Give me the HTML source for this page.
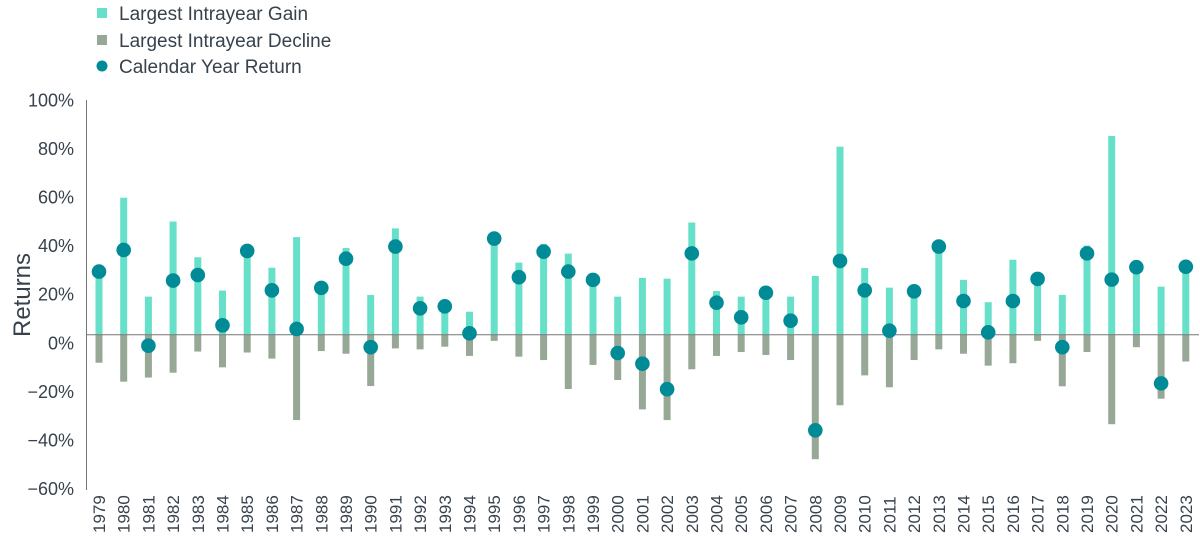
<!DOCTYPE html>
<html><head><meta charset="utf-8"><style>
body{margin:0;background:#fff;}
svg{display:block;font-family:"Liberation Sans Narrow","Liberation Sans",sans-serif;}
</style></head><body>
<svg id="chart" width="1200" height="536" viewBox="0 0 1200 536">
<g>
 <g><rect x="97" y="8" width="10" height="10" fill="#66e0c8"/><text x="119" y="20" font-size="19" fill="#37424d">Largest Intrayear Gain</text></g>
 <g><rect x="97" y="35" width="10" height="10" fill="#98a897"/><text x="119" y="47" font-size="19" fill="#37424d">Largest Intrayear Decline</text></g>
 <g><circle cx="102" cy="66" r="5.5" fill="#008b96"/><text x="119" y="73" font-size="19" fill="#37424d">Calendar Year Return</text></g>
</g>
<text transform="translate(30,295) rotate(-90)" text-anchor="middle" font-size="24" fill="#37424d" font-family="Liberation Sans, sans-serif">Returns</text>
<g id="yticks"></g>
<g id="bars"></g>
<line x1="86.5" y1="100" x2="86.5" y2="490" stroke="#777" stroke-width="1"/>
<line id="zero" x1="86" x2="1199" stroke="#777" stroke-width="1"/>
<g id="dots"></g>
<g id="xlabels"></g>
</svg>
<script>
const years=[1979,1980,1981,1982,1983,1984,1985,1986,1987,1988,1989,1990,1991,1992,1993,1994,1995,1996,1997,1998,1999,2000,2001,2002,2003,2004,2005,2006,2007,2008,2009,2010,2011,2012,2013,2014,2015,2016,2017,2018,2019,2020,2021,2022,2023];
const gains=[26,56.2,15.5,46.4,31.7,18,34.5,27.4,40,19,35.5,16.2,43.6,15.5,12,9.3,39.5,29.5,37.2,33.2,22.5,15.5,23.2,22.9,46,17.8,15.5,17,15.5,24,77.2,27.3,19.2,17.7,36.1,22.4,13.2,30.7,22.8,16.2,36.5,81.6,27.6,19.6,27.8];
const declines=[-11.7,-19.5,-17.8,-15.8,-7.1,-13.6,-7.5,-10,-35.3,-6.9,-8,-21.3,-5.8,-6.2,-5.1,-8.9,-2.7,-9.2,-10.6,-22.5,-12.6,-18.8,-30.9,-35.3,-14.4,-8.9,-7.3,-8.5,-10.6,-51.4,-29.2,-16.9,-21.8,-10.6,-6.2,-8,-12.9,-11.9,-2.7,-21.4,-7.3,-37,-5.3,-26.5,-11.2];
const returns=[25.8,34.7,-4.7,22.1,24.4,3.7,34.3,18.1,2.2,19.1,31.1,-5.3,36.1,10.7,11.5,0.4,39.4,23.5,34,25.8,22.4,-7.7,-12.1,-22.6,33.3,13,7,17.1,5.6,-39.5,30.2,18.1,1.5,17.7,36.1,13.7,0.8,13.7,22.8,-5.3,33.3,22.5,27.6,-20.2,27.8];
const yTicks=[100,80,60,40,20,0,-20,-40,-60];
const tickLabels=["100%","80%","60%","40%","20%","0%","\u221220%","\u221240%","\u221260%"];
const NS="http://www.w3.org/2000/svg";
const y=v=>334.3-v*2.43;
const x=i=>99+i*24.7;
function mk(t,a,p){const e=document.createElementNS(NS,t);for(const k in a)e.setAttribute(k,a[k]);p.appendChild(e);return e;}
const z=document.getElementById('zero');z.setAttribute('y1',y(0)+0.5);z.setAttribute('y2',y(0)+0.5);
const yt=document.getElementById('yticks');
yTicks.forEach((v,i)=>{const t=mk('text',{x:74,y:y(v)+15,'text-anchor':'end','font-size':'18',fill:'#37424d'},yt);t.textContent=tickLabels[i];

});
const bg=document.getElementById('bars'),dg=document.getElementById('dots'),xl=document.getElementById('xlabels');
years.forEach((yr,i)=>{
 const g=mk('rect',{x:x(i)-3.5,y:y(gains[i]),width:7,height:y(0)-y(gains[i]),fill:'#66e0c8'},bg);
 
 
 const d=mk('rect',{x:x(i)-3.5,y:y(0),width:7,height:y(declines[i])-y(0),fill:'#98a897'},bg);
 
 
 const c=mk('circle',{cx:x(i),cy:y(returns[i]),r:7.3,fill:'#008b96'},dg);
 
 
 const t=mk('text',{transform:`translate(${x(i)+6},533) rotate(-90)`,'font-size':'17',fill:'#37424d'},xl);
 t.textContent=yr;
 
 
});
</script>
</body></html>
